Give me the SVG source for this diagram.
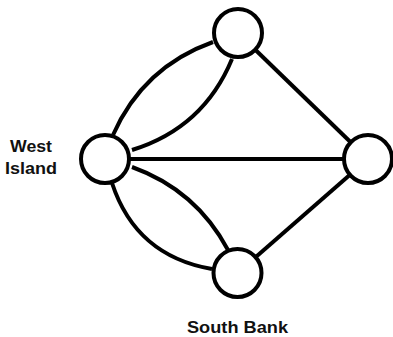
<svg xmlns="http://www.w3.org/2000/svg" width="393" height="337" viewBox="0 0 393 337">
<style>
.edge{fill:none;stroke:#000;stroke-width:4;stroke-linecap:butt}
.node{fill:#fff;stroke:#000;stroke-width:4}
.lbl{font-family:"Liberation Sans",Arial,sans-serif;font-weight:bold;font-size:17px;fill:#111;text-anchor:middle}
</style>
<rect width="393" height="337" fill="#fff"/>
<g id="connectors">
<path class="edge" d="M105,159 L368,159"/>
<path class="edge" d="M238,33 L368,159"/>
<path class="edge" d="M237.5,273 L368,159"/>
<path class="edge" d="M113,135 Q143,67 213,42"/>
<path class="edge" d="M132,150 Q203.5,128 232,59"/>
<path class="edge" d="M112,183 Q136,256 212,269"/>
<path class="edge" d="M132,167 Q196,190 228,250"/>
</g>
<g id="node-top"><circle class="node" cx="238" cy="33" r="24"/></g>
<g id="node-west"><circle class="node" cx="105" cy="159" r="24"/></g>
<g id="node-east"><circle class="node" cx="368" cy="159" r="24"/></g>
<g id="node-south"><circle class="node" cx="237.5" cy="273" r="24"/></g>
<g id="label-west">
<text class="lbl" x="31" y="152" textLength="42" lengthAdjust="spacingAndGlyphs">West</text>
<text class="lbl" x="31" y="173.5" textLength="52" lengthAdjust="spacingAndGlyphs">Island</text>
</g>
<g id="label-south"><text class="lbl" x="237.5" y="333.3" textLength="101" lengthAdjust="spacingAndGlyphs">South Bank</text></g>
</svg>
